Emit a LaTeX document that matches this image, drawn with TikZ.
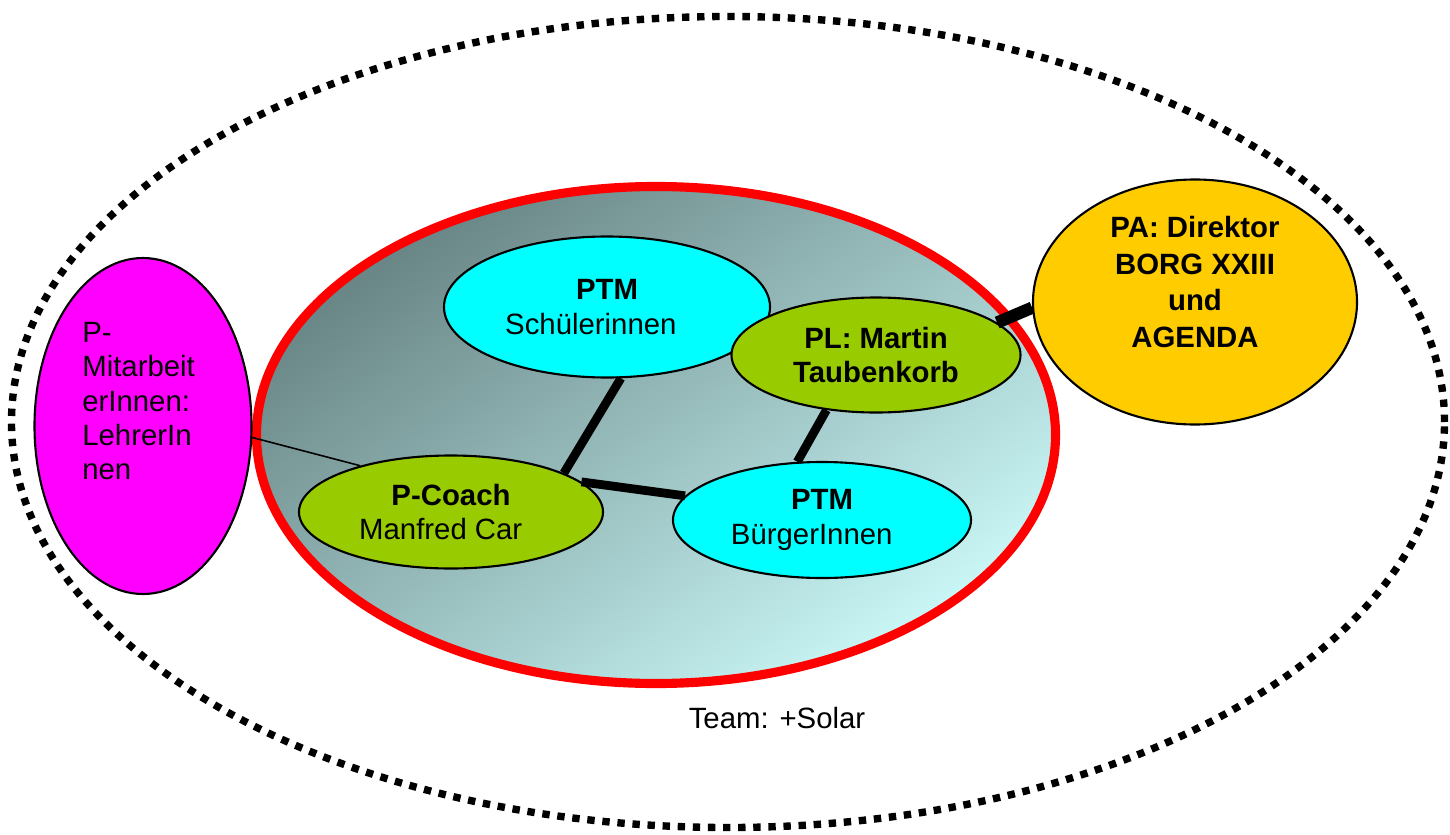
\documentclass[tikz,border=0pt]{standalone}
\usepackage{fontspec}
\setmainfont{Liberation Sans}
\usepackage{xcolor}
\usetikzlibrary{shapes.geometric, positioning, calc}

\definecolor{leafgreen}{RGB}{153,204,0}
\definecolor{sunorange}{RGB}{255,204,0}
\definecolor{ptmcyan}{RGB}{0,255,255}
\definecolor{staffpink}{RGB}{255,0,255}
\definecolor{tealdark}{RGB}{104,132,132}
\definecolor{tealsoft}{RGB}{202,247,247}

\begin{document}
\begin{tikzpicture}[
        x=0.2mm, y=-0.2mm,
        every node/.style={font=\fontsize{16.7}{19.5}\selectfont},
        blob/.style={ellipse, draw, line width=1.2pt, inner sep=0pt, align=center},
        member/.style={blob, fill=ptmcyan},
        lead/.style={blob, fill=leafgreen},
        link/.style={line width=5pt}
    ]
        \useasboundingbox (0,0) rectangle (1450,834);

        % outer team boundary and core team
        \node[ellipse, draw, line width=4.2pt, dash pattern=on 4.2pt off 4.4pt,
              minimum width=286.6mm, minimum height=162.2mm] (boundary) at (728,422) {};
        \node[ellipse, draw=red, line width=5.2pt, top color=tealdark, bottom color=tealsoft,
              shading angle=35, minimum width=159.8mm, minimum height=99.4mm] (team) at (656,435) {};
        \node (teamlabel) at (777,718) {Team: +Solar};

        % people
        \node[blob, fill=staffpink, minimum width=43.4mm, minimum height=67.2mm] (lehrer) at (143,426) {};
        \node[anchor=north west, align=left, inner sep=0pt] (lehrertext) at (82,322)
            {P-\\Mitarbeit\\erInnen:\\LehrerIn\\nen};
        \node[member, minimum width=65.2mm, minimum height=28.2mm] (schueler) at (607,307)
            {\textbf{PTM}\\Schülerinnen\hspace*{1.1em}};
        \node[lead, minimum width=57.8mm, minimum height=23mm] (pl) at (876,355)
            {\textbf{PL: Martin}\\\textbf{Taubenkorb}};
        \node[blob, fill=sunorange, minimum width=64.8mm, minimum height=49mm] (pa) at (1195,302) {};
        \node[align=center, font=\fontsize{16.7}{21}\selectfont\bfseries] (patext) at (1195,282)
            {PA: Direktor\\BORG XXIII\\und\\AGENDA};
        \node[lead, minimum width=60.8mm, minimum height=22.6mm] (coach) at (451,512)
            {\textbf{P-Coach}\\Manfred Car\hspace*{0.7em}};
        \node[member, minimum width=59.6mm, minimum height=23.2mm] (buerger) at (822,520)
            {\textbf{PTM}\\BürgerInnen\hspace*{0.7em}};

        % links
        \draw[link] (schueler.-79) -- (coach.19);
        \draw[link] (coach.13) -- (buerger.170);
        \draw[link] (pl.-132) -- (buerger.113);
        \draw[line width=7pt] (pl.15) -- (pa.182);
        \draw[line width=0.9pt] (lehrer.-6) -- (coach.153);
    \end{tikzpicture}
\end{document}
